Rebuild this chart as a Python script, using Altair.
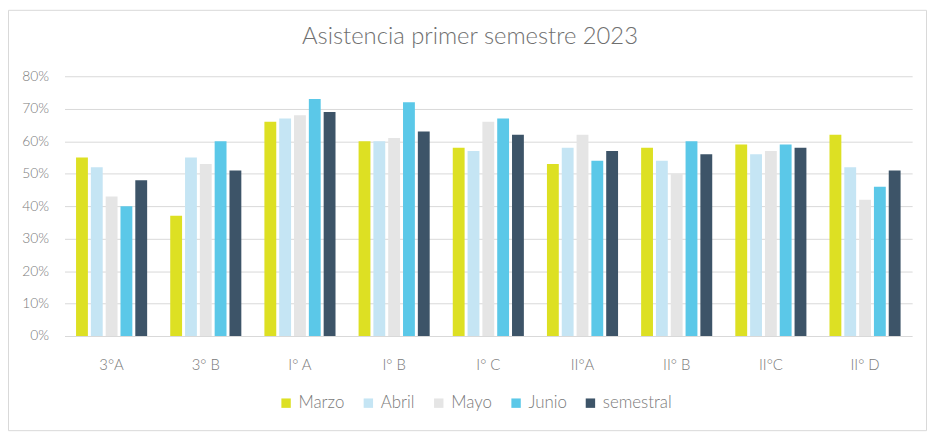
import altair as alt
import pandas as pd

titulo = "Asistencia primer semestre 2023"
cursos = ["3°A", "3° B", "I° A", "I° B", "I° C", "II°A", "II° B", "II°C", "II° D"]
series = ["Marzo", "Abril", "Mayo", "Junio", "semestral"]
colores = ["#DDE023", "#C5E5F4", "#E5E5E5", "#5BC8E8", "#3D5468"]

marzo = [55, 37, 66, 60, 58, 53, 58, 59, 62]
abril = [52, 55, 67, 60, 57, 58, 54, 56, 52]
mayo = [43, 53, 68, 61, 66, 62, 50, 57, 42]
junio = [40, 60, 73, 72, 67, 54, 60, 59, 46]
semestral = [48, 51, 69, 63, 62, 57, 56, 58, 51]

valores = [marzo, abril, mayo, junio, semestral]
rows = []
for s, vals in zip(series, valores):
    for c, v in zip(cursos, vals):
        rows.append({"curso": c, "serie": s, "valor": v})
df = pd.DataFrame(rows)

FONT = "Lato"
W, H = 855, 262

bars = alt.Chart(df).mark_bar().encode(
    x=alt.X("curso:N", sort=cursos, title=None,
            scale=alt.Scale(paddingInner=0.245, paddingOuter=0.1225),
            axis=alt.Axis(labelAngle=0, ticks=False, tickSize=0, domain=False,
                          labelPadding=22, labelFontSize=15, labelColor="#7a7a7a",
                          labelFont=FONT, labelFontWeight=300, grid=False)),
    xOffset=alt.XOffset("serie:N", sort=series, scale=alt.Scale(paddingInner=0.2)),
    y=alt.Y("valor:Q", title=None,
            scale=alt.Scale(domain=[0, 80], nice=False),
            axis=alt.Axis(values=[0, 10, 20, 30, 40, 50, 60, 70, 80],
                          labelExpr="datum.value + '%'", ticks=False, domain=False,
                          labelPadding=16, labelFontSize=14, labelColor="#7a7a7a",
                          labelFont=FONT, labelFontWeight=300,
                          grid=True, gridColor="#d9d9d9", gridWidth=1)),
    color=alt.Color("serie:N", sort=series,
                    scale=alt.Scale(domain=series, range=colores),
                    legend=alt.Legend(title=None, orient="none", direction="horizontal",
                                      legendX=215, legendY=321,
                                      symbolType="square", symbolSize=90,
                                      symbolStrokeWidth=0,
                                      labelFontSize=17, labelColor="#7a7a7a",
                                      labelFont=FONT, labelFontWeight=300,
                                      columnPadding=15, labelOffset=4)),
)

frame = alt.Chart(alt.Data(values=[{"a": 1}])).mark_rect(
    fill=None, stroke="#d9d9d9", strokeWidth=1
).encode(
    x=alt.value(-56.5), x2=alt.value(W + 14.5),
    y=alt.value(-66.5), y2=alt.value(H + 95.5)
)

title_mark = alt.Chart(alt.Data(values=[{"t": titulo}])).mark_text(
    font=FONT, fontSize=24, fontWeight=300, color="#6f6f6f",
    align="center", baseline="middle"
).encode(
    text="t:N", x=alt.value(409), y=alt.value(-40)
)

chart = alt.layer(frame, bars, title_mark).properties(
    width=W, height=H,
    autosize=alt.AutoSizeParams(type="none"),
    padding={"left": 57, "top": 67, "right": 15, "bottom": 96},
).configure_view(stroke=None)

chart.save("out.html", embed_options={"renderer": "svg", "actions": False})
